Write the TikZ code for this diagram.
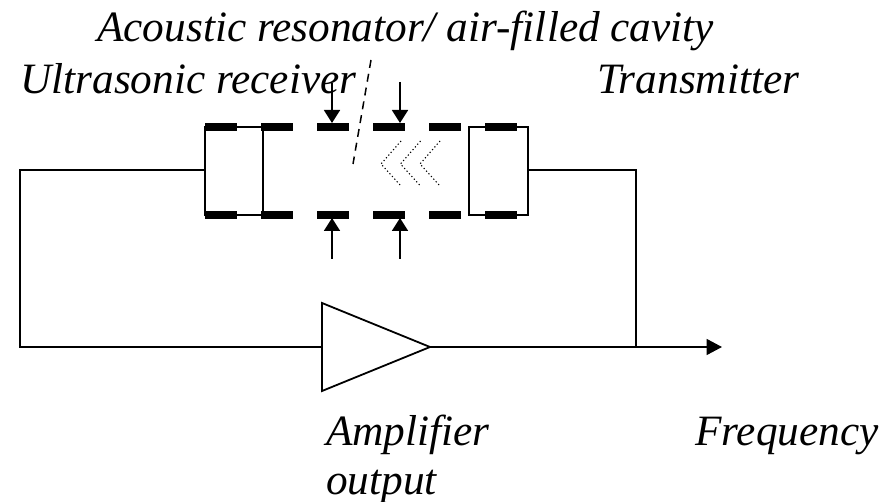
\documentclass[tikz,border=0pt]{standalone}
\usepackage{fontspec}
\setmainfont{Liberation Serif}
\usetikzlibrary{arrows.meta}
\tikzset{
 plate/.style={fill=black,draw=none,minimum width=32pt,minimum height=8pt,inner sep=0pt},
 wire/.style={line width=1.8pt,line join=miter},
 lab/.style={inner sep=0pt,anchor=base west,font=\fontsize{43.3}{48}\selectfont\itshape},
 pin/.style={line width=1.8pt,-{Triangle[length=13pt,width=16pt]}},
 wave/.style={line width=1.1pt,dash pattern=on 1.2pt off 2.4pt},
}
\begin{document}
\begin{tikzpicture}[x=1pt,y=-1pt]
\useasboundingbox (0,0) rectangle (891,502);
\foreach \n/\x in {a/221,b/277,c/333,d/389,e/445,f/501}{
 \node[plate] (t\n) at (\x,126.7) {};
 \node[plate] (b\n) at (\x,215) {};
}
\coordinate (ltl) at (205,126.7);
\coordinate (lbl) at (205,215);
\coordinate (lin) at (205,170);
\coordinate (lmt) at (263,126.7);
\coordinate (lmb) at (263,215);
\coordinate (rtr) at (528,126.7);
\coordinate (rbr) at (528,215);
\coordinate (rin) at (528,170);
\coordinate (rtl) at (469,126.7);
\coordinate (rbl) at (469,215);
\coordinate (c1) at (20,170);
\coordinate (c2) at (20,347);
\coordinate (c3) at (636,170);
\coordinate (c4) at (636,347);
\coordinate (oe) at (722,347);
\coordinate (ta) at (322,303);
\coordinate (tb) at (322,391);
\coordinate (tc) at (430,347);
\coordinate (ti) at (322,347);
\draw[wire] (ltl) -- (lbl) -- (lmb) -- (lmt) -- cycle;
\draw[wire] (ta) -- (tb) -- (tc) -- cycle;
\draw[wire] (tf) -- (rtl) -- (rbl) -- (bf);
\draw[wire] (tf) -- (rtr) -- (rbr) -- (bf);
\draw[wire] (lin) -- (c1) -- (c2) -- (ti);
\draw[wire] (rin) -- (c3) -- (c4);
\draw[line width=1.8pt,-{Triangle[length=15.5pt,width=16pt]}] (tc) -- (oe);
\coordinate (p1) at (332,83);
\coordinate (p2) at (400,82);
\coordinate (p3) at (332,259);
\coordinate (p4) at (400,259);
\coordinate (q1) at (332,123);
\coordinate (q2) at (400,123);
\coordinate (q3) at (332,218);
\coordinate (q4) at (400,218);
\draw[pin] (p1) -- (q1);
\draw[pin] (p2) -- (q2);
\draw[pin] (p3) -- (q3);
\draw[pin] (p4) -- (q4);
\coordinate (d1) at (371,60);
\coordinate (d2) at (353,164);
\draw[line width=1.5pt,dash pattern=on 8pt off 6pt] (d1) -- (d2);
\foreach \x in {0,19.5,39}{
 \draw[wave] (401+\x,141) -- (381+\x,164) -- (401+\x,186);
}
\node[lab] (l1) at (97,42) {Acoustic resonator/ air-filled cavity};
\node[lab] (l2) at (20,94) {Ultrasonic receiver};
\node[lab] (l3) at (597,94) {Transmitter};
\node[lab] (l4) at (326,445) {Amplifier};
\node[lab] (l5) at (326,494) {output};
\node[lab] (l6) at (695,445) {Frequency};
\end{tikzpicture}
\end{document}
